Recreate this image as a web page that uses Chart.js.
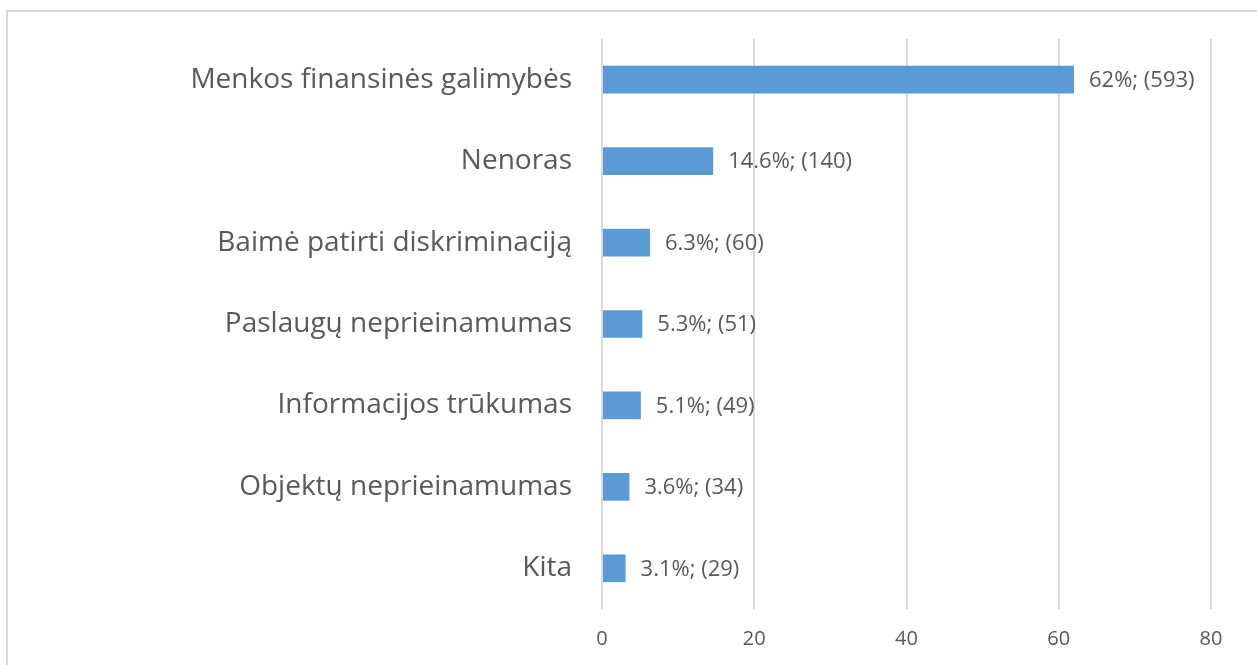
<!DOCTYPE html>
<html>
<head>
<meta charset="utf-8">
<script src="https://cdn.jsdelivr.net/npm/chart.js@4.4.0/dist/chart.umd.min.js"></script>
<style>
  html, body { margin: 0; padding: 0; background: #fff; overflow: hidden; }
  #wrap { position: relative; width: 1257px; height: 665px; }
  #frame { position: absolute; left: 6px; top: 10px; width: 1300px; height: 700px;
           border-top: 2px solid #D9D9D9; border-left: 2px solid #D9D9D9; box-sizing: border-box; }
  canvas { position: absolute; left: 0; top: 0; }
</style>
</head>
<body>
<div id="wrap">
  <div id="frame"></div>
  <canvas id="c" width="1257" height="665"></canvas>
</div>
<script>
const categories = [
  "Menkos finansinės galimybės",
  "Nenoras",
  "Baimė patirti diskriminaciją",
  "Paslaugų neprieinamumas",
  "Informacijos trūkumas",
  "Objektų neprieinamumas",
  "Kita"
];
const percents = [62, 14.6, 6.3, 5.3, 5.1, 3.6, 3.1];
const counts = [593, 140, 60, 51, 49, 34, 29];
const xTicks = [0, 20, 40, 60, 80];

const FONT = "'Open Sans', sans-serif";
const TEXT = "#595959";

const labelPlugin = {
  id: 'barLabels',
  afterDatasetsDraw(chart) {
    const ctx = chart.ctx;
    const meta = chart.getDatasetMeta(0);
    ctx.save();
    ctx.font = "22px " + FONT;
    ctx.fillStyle = TEXT;
    ctx.textAlign = 'left';
    ctx.textBaseline = 'middle';
    meta.data.forEach((bar, i) => {
      const txt = percents[i] + "%; (" + counts[i] + ")";
      ctx.fillText(txt, bar.x + 15, bar.y + 1);
    });
    ctx.restore();
  }
};

new Chart(document.getElementById('c'), {
  type: 'bar',
  data: {
    labels: categories,
    datasets: [{
      data: percents,
      backgroundColor: '#5B9BD5',
      borderWidth: 0,
      barPercentage: 0.68,
      categoryPercentage: 0.5
    }]
  },
  options: {
    indexAxis: 'y',
    responsive: false,
    animation: false,
    layout: { padding: { top: 39, right: 46, left: 0, bottom: 0 } },
    plugins: { legend: { display: false }, tooltip: { enabled: false } },
    scales: {
      x: {
        min: 0, max: 80,
        afterBuildTicks(scale) { scale.ticks = xTicks.map(v => ({ value: v })); },
        afterFit(scale) { scale.height = 56; scale.paddingLeft = 0; scale.paddingRight = 0; },
        grid: { color: '#D9D9D9', lineWidth: 2, drawTicks: false },
        border: { display: false },
        ticks: { color: TEXT, font: { family: FONT, size: 20 }, padding: 18 }
      },
      y: {
        afterFit(scale) { scale.width = 602; scale.paddingTop = 0; scale.paddingBottom = 0; },
        grid: { display: false, drawTicks: false },
        border: { display: false },
        ticks: { color: TEXT, font: { family: FONT, size: 28 }, padding: 30 }
      }
    }
  },
  plugins: [labelPlugin]
});
</script>
</body>
</html>
